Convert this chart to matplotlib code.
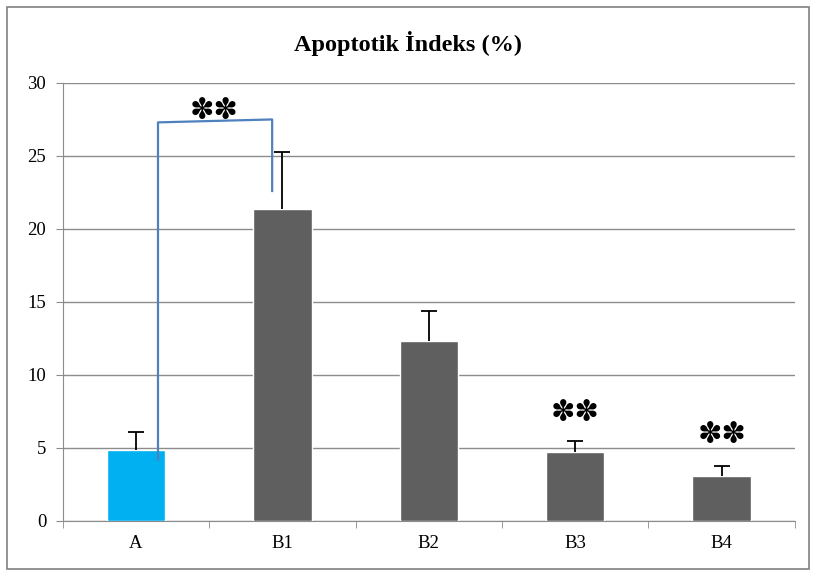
import numpy as np
import matplotlib.pyplot as plt
from matplotlib.patches import Rectangle

groups = ['A', 'B1', 'B2', 'B3', 'B4']
values = [4.85, 21.4, 12.3, 4.75, 3.1]
errors = [1.25, 3.9, 2.1, 0.7, 0.7]
colors = ['#00b0f0', '#5f5f5f', '#5f5f5f', '#5f5f5f', '#5f5f5f']

star = '\u273d\u273d'

fig = plt.figure(figsize=(8.16, 5.76), dpi=100)
fig.patches.append(Rectangle((0.008, 0.012), 0.984, 0.976, transform=fig.transFigure,
                             fill=False, edgecolor='#808080', linewidth=1.2))
ax = fig.add_axes([0.077, 0.0955, 0.897, 0.7605])

x = np.arange(len(groups))
vals = np.array(values)
errs = np.array(errors)
ax.bar(x, vals, width=0.4, color=colors, edgecolor='white', linewidth=1, zorder=3)
# upper error bars only, cap on top
ax.vlines(x, vals, vals + errs, color='black', linewidth=1.3, zorder=4)
ax.plot(x, vals + errs, linestyle='none', marker='_', markersize=11,
        markeredgewidth=1.3, color='black', zorder=4)

ax.set_xlim(-0.5, 4.5)
ax.set_ylim(0, 30)
ax.set_yticks(range(0, 31, 5))
ax.yaxis.grid(True, color='#8c8c8c', linewidth=1)
ax.set_axisbelow(True)
ax.set_xticks(x)
ax.set_xticklabels(groups)
ax.set_xticks(np.arange(-0.5, 5, 1), minor=True)
ax.tick_params(axis='x', which='major', length=0, pad=10)
ax.tick_params(axis='x', which='minor', length=5, color='#8c8c8c')
ax.tick_params(axis='y', length=5, color='#8c8c8c', pad=7)
for lbl in ax.get_xticklabels() + ax.get_yticklabels():
    lbl.set_fontfamily('Liberation Serif')
    lbl.set_fontsize(13.5)
for s in ['top', 'right']:
    ax.spines[s].set_visible(False)
for s in ['left', 'bottom']:
    ax.spines[s].set_color('#8c8c8c')

fig.text(0.5, 0.925, 'Apoptotik İndeks (%)', ha='center', va='center',
         fontfamily='Liberation Serif', fontweight='bold', fontsize=17.5)

# significance bracket
ax.plot([0.15, 0.15, 0.93, 0.93], [4.2, 27.3, 27.5, 22.6], color='#4f81bd',
        linewidth=1.6, zorder=5)
ax.text(0.53, 28.1, star, ha='center', va='center', fontsize=21,
        fontfamily='DejaVu Sans', zorder=6)
ax.text(3.0, 7.4, star, ha='center', va='center', fontsize=21,
        fontfamily='DejaVu Sans', zorder=6)
ax.text(4.0, 5.9, star, ha='center', va='center', fontsize=21,
        fontfamily='DejaVu Sans', zorder=6)

fig.savefig('out.png', dpi=100)
